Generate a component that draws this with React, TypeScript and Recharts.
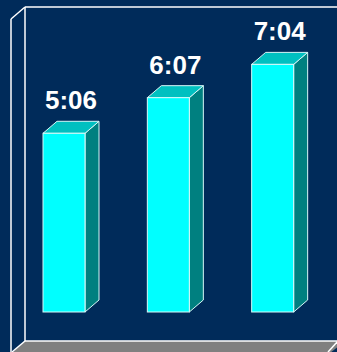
import React from 'react';
import { BarChart, Bar, XAxis, YAxis, LabelList } from 'recharts';

const categories = ['A', 'B', 'C'];
const seconds = [306, 367, 424];
const labels = ['5:06', '6:07', '7:04'];

const data = categories.map((c, i) => ({ name: c, value: seconds[i], label: labels[i] }));

const W = 337;
const H = 352;
const DX = 14;
const DY = 12;
const NAVY = '#002B5A';

const Bar3D = (props: any) => {
  const { x, y, width, height } = props;
  if (height == null || width == null) return null;
  const edge = '#D8F8F8';
  const side = `${x + width},${y} ${x + width + DX},${y - DY} ${x + width + DX},${y + height - DY} ${x + width},${y + height}`;
  const top = `${x},${y} ${x + DX},${y - DY} ${x + width + DX},${y - DY} ${x + width},${y}`;
  return (
    <g>
      <polygon points={side} fill="#008080" stroke={edge} strokeWidth={1} />
      <polygon points={top} fill="#00C0C0" stroke={edge} strokeWidth={1} />
      <rect x={x} y={y} width={width} height={height} fill="#00FFFF" stroke={edge} strokeWidth={1} />
    </g>
  );
};

const TopLabel = (props: any) => {
  const { x, y, width, value } = props;
  return (
    <text
      x={x + width / 2 + DX / 2}
      y={y - DY - 12}
      textAnchor="middle"
      fill="#FFFFFF"
      fontFamily="'Liberation Sans', Arial, sans-serif"
      fontWeight="bold"
      fontSize={26}
    >
      {value}
    </text>
  );
};

const Frame = () => (
  <svg width={W} height={H} style={{ position: 'absolute', left: 0, top: 0 }}>
    <rect x={0} y={0} width={W} height={H} fill={NAVY} />
    <polygon points={`25,341 345,341 330,353 12,353`} fill="#808080" />
    <g stroke="#FFFFFF" strokeWidth={1.5} fill="none">
      <line x1={25} y1={7} x2={W + 2} y2={7} />
      <line x1={25} y1={7} x2={25} y2={341} />
      <line x1={25} y1={7} x2={11} y2={19} />
      <line x1={11} y1={19} x2={11} y2={H + 2} />
      <line x1={25} y1={341} x2={W + 2} y2={341} />
      <line x1={25} y1={341} x2={12} y2={352} />
      <line x1={338} y1={341} x2={328} y2={352} />
    </g>
  </svg>
);

export default function App() {
  return (
    <div style={{ position: 'absolute', left: 0, top: 0, width: W, height: H, overflow: 'hidden', background: NAVY }}>
      <Frame />
      <div style={{ position: 'absolute', left: 0, top: 0 }}>
        <BarChart
          width={W}
          height={H}
          data={data}
          margin={{ top: 20, right: 12, bottom: 40, left: 12 }}
          barCategoryGap={0}
        >
          <XAxis dataKey="name" hide />
          <YAxis hide domain={[0, 500]} />
          <Bar dataKey="value" barSize={42} shape={Bar3D} isAnimationActive={false}>
            <LabelList dataKey="label" content={TopLabel} />
          </Bar>
        </BarChart>
      </div>
    </div>
  );
}
